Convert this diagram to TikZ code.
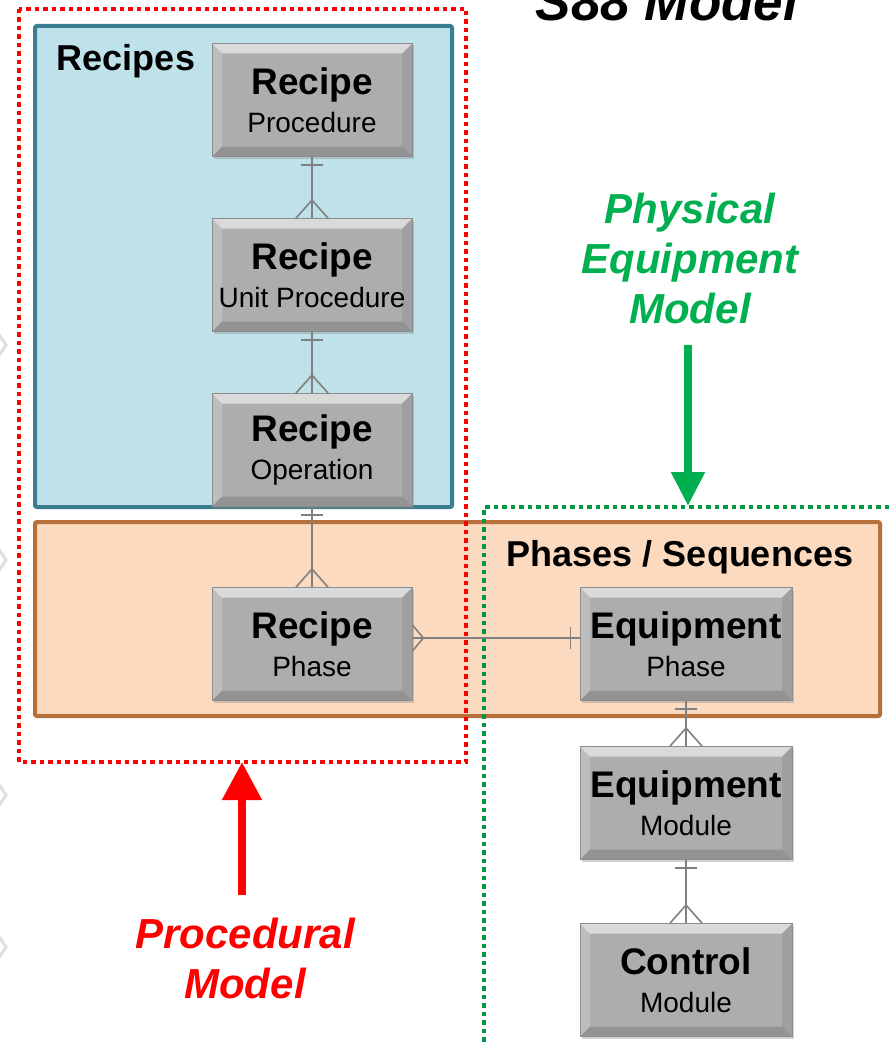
\documentclass[tikz,border=0pt]{standalone}
\usepackage{fontspec}
\setmainfont{Liberation Sans}
\usetikzlibrary{shadows,arrows.meta}
\definecolor{boxgray}{HTML}{ADADAD}
\definecolor{boxedge}{HTML}{8C8C8C}
\definecolor{conngray}{HTML}{808080}
\definecolor{tealfill}{HTML}{BEE1EA}
\definecolor{tealedge}{HTML}{3A7F90}
\definecolor{orfill}{HTML}{FBDAC0}
\definecolor{oredge}{HTML}{B8703A}
\definecolor{pgreen}{HTML}{00B050}
\definecolor{pred}{HTML}{FF0000}
\tikzset{
  entity/.style={draw=boxedge, fill=boxgray, line width=0.8pt,
    minimum width=200pt, minimum height=113pt, inner sep=0pt, align=center,
    font=\fontsize{28}{38}\selectfont,
    drop shadow={shadow xshift=2pt, shadow yshift=-2pt, opacity=0.35},
    path picture={
      \fill[white,opacity=0.55] (path picture bounding box.north west) -- (path picture bounding box.north east)
        -- ([xshift=-10pt,yshift=-10pt]path picture bounding box.north east) -- ([xshift=10pt,yshift=-10pt]path picture bounding box.north west) -- cycle;
      \fill[white,opacity=0.2] (path picture bounding box.north west) -- ([xshift=10pt,yshift=-10pt]path picture bounding box.north west)
        -- ([xshift=10pt,yshift=10pt]path picture bounding box.south west) -- (path picture bounding box.south west) -- cycle;
      \fill[black,opacity=0.08] (path picture bounding box.north east) -- ([xshift=-10pt,yshift=-10pt]path picture bounding box.north east)
        -- ([xshift=-10pt,yshift=10pt]path picture bounding box.south east) -- (path picture bounding box.south east) -- cycle;
      \fill[black,opacity=0.15] (path picture bounding box.south west) -- (path picture bounding box.south east)
        -- ([xshift=-10pt,yshift=10pt]path picture bounding box.south east) -- ([xshift=10pt,yshift=10pt]path picture bounding box.south west) -- cycle;
    }},
  conn/.style={draw=conngray, line width=1.6pt},
  group/.style={line width=4pt, rounded corners=2pt},
  grouplabel/.style={font=\fontsize{36}{40}\selectfont\bfseries, inner sep=0pt},
  reddot/.style={draw=pred, line width=3.5pt, dash pattern=on 4.5pt off 4pt},
  greendot/.style={draw=pgreen!85!black, line width=3.5pt, dash pattern=on 4.5pt off 4pt},
  modellabel/.style={font=\fontsize{42}{50}\selectfont\bfseries\itshape, align=center, inner sep=0pt},
  chevron/.style={draw=gray!25, line width=3pt}
}
\newcommand{\enttext}[2]{{\fontsize{37}{38}\selectfont\bfseries #1}\\#2}
\begin{document}
\begin{tikzpicture}[x=1pt,y=-1pt]
\useasboundingbox (0,0) rectangle (889,1046);
% faint chevrons at the left edge
\draw[chevron] (-2,333) -- (6,345) -- (-2,357);
\draw[chevron] (-2,548) -- (6,560) -- (-2,572);
\draw[chevron] (-2,783) -- (6,795) -- (-2,807);
\draw[chevron] (-2,935) -- (6,947) -- (-2,959);
% title (cut at the top, as in the reference)
\node[font=\fontsize{53}{60}\selectfont\bfseries\itshape, anchor=base, inner sep=0pt] (title) at (667,21) {S88 Model};
% group boxes
\draw[group, draw=tealedge, fill=tealfill, drop shadow={shadow xshift=2pt, shadow yshift=-2pt, opacity=0.25}] (35,26) rectangle (452,507);
\draw[group, draw=oredge, fill=orfill, drop shadow={shadow xshift=2pt, shadow yshift=-2pt, opacity=0.25}] (35,522) rectangle (880,716);
\node[grouplabel] (recipes) at (126,61) {Recipes};
\node[grouplabel] (phseq) at (680,557) {Phases / Sequences};
% dotted model outlines
\draw[reddot] (19,9) rectangle (466,762);
\draw[greendot] (484,1050) -- (484,507) -- (895,507);
% entities
\node[entity] (rproc) at (312,100) {\enttext{Recipe}{Procedure}};
\node[entity] (runit) at (312,275) {\enttext{Recipe}{Unit Procedure}};
\node[entity] (rop) at (312,450) {\enttext{Recipe}{Operation}};
\node[entity] (rph) at (312,644) {\enttext{Recipe}{Phase}};
\node[entity, minimum width=212pt] (eph) at (686,644) {\enttext{Equipment}{Phase}};
\node[entity, minimum width=212pt] (emod) at (686,803) {\enttext{Equipment}{Module}};
\node[entity, minimum width=212pt] (cmod) at (686,980) {\enttext{Control}{Module}};
% connectors: one (bar) at upper entity, many (crow's foot) at lower entity
\foreach \a/\b in {rproc/runit, runit/rop, rop/rph, eph/emod, emod/cmod} {
  \draw[conn] (\a.south) -- (\b.north);
  \draw[conn] ([xshift=-11pt,yshift=-8pt]\a.south) -- ([xshift=11pt,yshift=-8pt]\a.south);
  \draw[conn] ([xshift=-16pt]\b.north) -- ([yshift=18pt]\b.north) -- ([xshift=16pt]\b.north);
}
% horizontal connector: many Recipe Phases to one Equipment Phase
\draw[conn] ([yshift=6pt]rph.east) -- ([yshift=6pt]eph.west);
\draw[conn] ([yshift=19pt]rph.east) -- ([xshift=11pt,yshift=6pt]rph.east) -- ([yshift=-7pt]rph.east);
\draw[conn] ([xshift=-9pt,yshift=17pt]eph.west) -- ([xshift=-9pt,yshift=-5pt]eph.west);
% model labels and arrows
\node[modellabel, text=pgreen] (pem) at (690,258) {Physical\\Equipment\\Model};
\coordinate (pemtip) at (688,506);
\draw[pgreen, line width=8pt, -{Triangle[width=32pt,length=34pt]}] (pemtip |- 345,345) -- (pemtip);
\node[modellabel, text=pred] (prm) at (245,958) {Procedural\\Model};
\coordinate (prmtip) at (242,762);
\draw[pred, line width=8pt, -{Triangle[width=38pt,length=38pt]}] (prmtip |- 895,895) -- (prmtip);
\end{tikzpicture}
\end{document}
